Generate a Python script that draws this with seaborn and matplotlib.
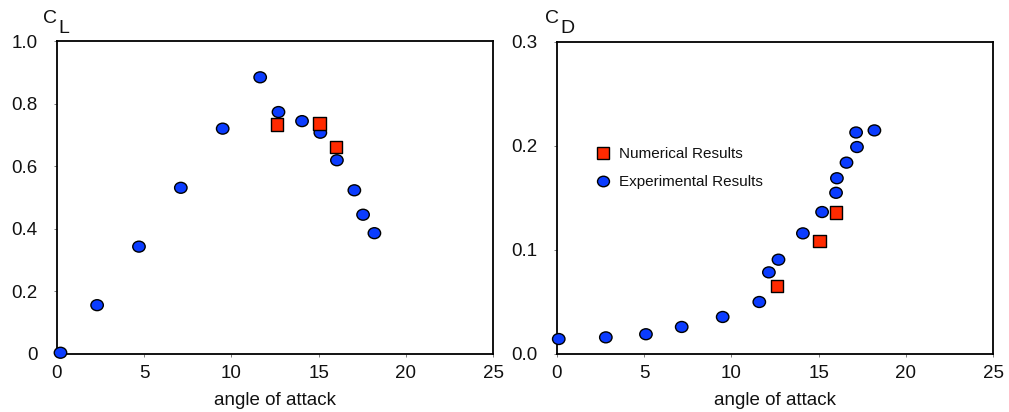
import numpy as np
import pandas as pd
import matplotlib
matplotlib.use("Agg")
import matplotlib.pyplot as plt
from matplotlib.path import Path
import seaborn as sns

# ---- data ----
cl_exp_alpha = [0.2, 2.3, 4.7, 7.1, 9.5, 11.65, 12.7, 14.05, 15.1, 16.05, 17.05, 17.55, 18.2]
cl_exp_val = [0.004, 0.156, 0.343, 0.531, 0.720, 0.884, 0.773, 0.744, 0.707, 0.619, 0.523, 0.445, 0.386]
cl_num_alpha = [12.6, 15.05, 16.0]
cl_num_val = [0.733, 0.736, 0.661]

cd_exp_alpha = [0.1, 2.8, 5.1, 7.15, 9.5, 11.6, 12.15, 12.7, 14.1, 15.2, 16.0, 16.05, 16.6, 17.2, 17.15, 18.2]
cd_exp_val = [0.0144, 0.016, 0.019, 0.026, 0.0356, 0.050, 0.0785, 0.0907, 0.116, 0.1365, 0.155, 0.169, 0.184, 0.199, 0.213, 0.215]
cd_num_alpha = [12.6, 15.05, 16.0]
cd_num_val = [0.0654, 0.1087, 0.136]

series_names = ["Numerical Results", "Experimental Results"]
x_ticks = [0, 5, 10, 15, 20, 25]
cl_ticks = [0, 0.2, 0.4, 0.6, 0.8, 1.0]
cl_tick_labels = ["0", "0.2", "0.4", "0.6", "0.8", "1.0"]
cd_ticks = [0.0, 0.1, 0.2, 0.3]
cd_tick_labels = ["0.0", "0.1", "0.2", "0.3"]

sns.set_theme(style="ticks")
plt.rcParams["font.family"] = ["Liberation Sans", "DejaVu Sans"]

def frame(exp_a, exp_v, num_a, num_v):
    d1 = pd.DataFrame({"alpha": exp_a, "val": exp_v, "series": series_names[1]})
    d2 = pd.DataFrame({"alpha": num_a, "val": num_v, "series": series_names[0]})
    return pd.concat([d1, d2], ignore_index=True)

df_cl = frame(cl_exp_alpha, cl_exp_val, cl_num_alpha, cl_num_val)
df_cd = frame(cd_exp_alpha, cd_exp_val, cd_num_alpha, cd_num_val)

circ = Path.unit_circle()
ellipse = Path(circ.vertices * np.array([1.0, 0.88]), circ.codes)

palette = {series_names[0]: "#ff2a00", series_names[1]: "#0b3cff"}
markers = {series_names[0]: "s", series_names[1]: ellipse}

W, H = 1009, 412
fig = plt.figure(figsize=(W / 100, H / 100), dpi=100)
ax1 = fig.add_axes([57 / W, 1 - 354 / H, 436 / W, 313 / H])
ax2 = fig.add_axes([557 / W, 1 - 354 / H, 436 / W, 312 / H])

for ax, df, show_leg in [(ax1, df_cl, False), (ax2, df_cd, True)]:
    sns.scatterplot(data=df, x="alpha", y="val", hue="series", style="series",
                    hue_order=series_names, style_order=series_names,
                    palette=palette, markers=markers, s=80,
                    edgecolor="black", linewidth=1.0, ax=ax, legend=show_leg,
                    clip_on=False, zorder=3)
    ax.set_xlim(0, 25)
    ax.set_xticks(x_ticks)
    ax.set_xlabel("angle of attack", fontsize=13.5, labelpad=7, color="#111111")
    ax.set_ylabel("")
    for sp in ax.spines.values():
        sp.set_visible(True)
        sp.set_linewidth(1.3)
        sp.set_color("black")
    ax.tick_params(axis="both", direction="out", length=2, width=0.6,
                   color="#666666", labelsize=13.5, labelcolor="#111111")
    ax.tick_params(axis="y", pad=12)
    ax.tick_params(axis="x", pad=6)

ax1.set_ylim(0, 1.0)
ax1.set_yticks(cl_ticks)
ax1.set_yticklabels(cl_tick_labels)
ax2.set_ylim(0, 0.3)
ax2.set_yticks(cd_ticks)
ax2.set_yticklabels(cd_tick_labels)

leg = ax2.legend(loc="upper left", bbox_to_anchor=(0.089, 0.663), frameon=False,
                 fontsize=11, handlelength=0.95, handletextpad=0.55,
                 labelspacing=0.9, borderpad=0, borderaxespad=0)
for h in leg.legend_handles:
    try:
        h.set_markersize(8.6)
        h.set_markeredgecolor("black")
        h.set_markeredgewidth(1.0)
    except Exception:
        pass
for t in leg.get_texts():
    t.set_color("#111111")

# axis titles C_L and C_D (same size letter, subscript lowered)
fig.text(42.5 / W, 1 - 23.3 / H, "C", fontsize=14, va="baseline", ha="left", color="#111111")
fig.text(58 / W, 1 - 33.3 / H, "L", fontsize=14, va="baseline", ha="left", color="#111111")
fig.text(545 / W, 1 - 23.3 / H, "C", fontsize=14, va="baseline", ha="left", color="#111111")
fig.text(560 / W, 1 - 33.3 / H, "D", fontsize=14, va="baseline", ha="left", color="#111111")

fig.savefig("out.png", dpi=100, facecolor="white")
